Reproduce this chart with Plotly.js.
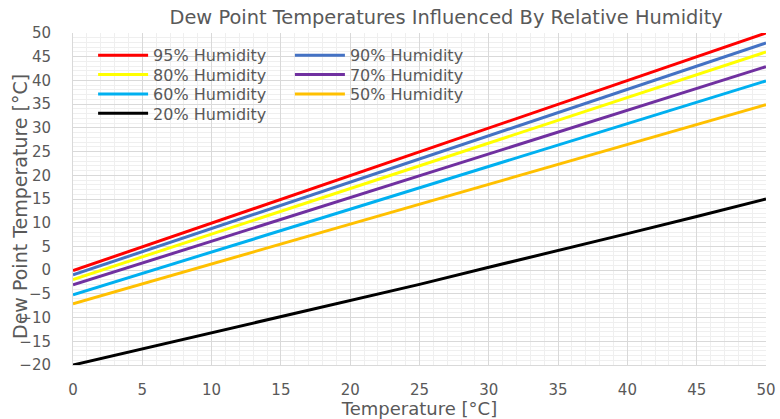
<!DOCTYPE html>
<html>
<head>
<meta charset="utf-8">
<script src="https://cdn.plot.ly/plotly-3.0.1.min.js"></script>
<style>html,body{margin:0;padding:0;background:#fff;}#chart{width:780px;height:419px;}</style>
</head>
<body>
<div id="chart"></div>
<script>
// Air temperature [°C]
const temperature = [0, 5, 10, 15, 20, 25, 30, 35, 40, 45, 50];
// Dew point [°C]
const rh95 = [-0.1, 4.9, 9.9, 14.9, 19.9, 25.0, 30.0, 35.0, 40.0, 45.0, 50.0];
const rh90 = [-1.0, 3.9, 8.8, 13.7, 18.6, 23.5, 28.4, 33.3, 38.2, 43.1, 47.9];
const rh80 = [-2.0, 2.8, 7.6, 12.4, 17.2, 22.0, 26.8, 31.6, 36.4, 41.2, 46.0];
const rh70 = [-3.1, 1.5, 6.1, 10.7, 15.3, 19.9, 24.5, 29.1, 33.7, 38.3, 42.9];
const rh60 = [-5.2, -0.7, 3.8, 8.3, 12.8, 17.3, 21.9, 26.4, 30.9, 35.4, 39.9];
const rh50 = [-7.1, -2.9, 1.3, 5.5, 9.7, 13.9, 18.1, 22.3, 26.5, 30.7, 34.9];
const rh20 = [-20.0, -16.6, -13.2, -9.9, -6.5, -3.0, 0.6, 4.1, 7.7, 11.3, 15.0];

const seriesNames = ['95% Humidity','90% Humidity','80% Humidity','70% Humidity','60% Humidity','50% Humidity','20% Humidity'];
const seriesData = [rh95, rh90, rh80, rh70, rh60, rh50, rh20];
const seriesColors = ['#FF0000','#4472C4','#FFFF00','#7030A0','#00B0F0','#FFC000','#000000'];

const FONT = 'DejaVu Sans, Verdana, sans-serif';
const GREY = '#595959';

// one legend box per entry, laid out as two columns like the reference
const legendIds = ['legend','legend2','legend3','legend4','legend5','legend6','legend7'];
const legendCol = [0, 1, 0, 1, 0, 1, 0];
const legendRow = [0, 0, 1, 1, 2, 2, 3];
const colX = [0.029, 0.313];
const rowY = [0.984, 0.926, 0.867, 0.809];

const traces = seriesData.map((y, i) => ({
  x: temperature, y: y, name: seriesNames[i], type: 'scatter', mode: 'lines',
  line: {color: seriesColors[i], width: 3},
  legend: legendIds[i]
}));

const layout = {
  width: 780, height: 419,
  margin: {l: 73, r: 14, t: 33, b: 54},
  paper_bgcolor: '#fff', plot_bgcolor: '#fff',
  showlegend: true,
  title: {text: 'Dew Point Temperatures Influenced By Relative Humidity',
          font: {family: FONT, size: 19.4, color: GREY},
          x: 0.572, xref: 'container', xanchor: 'center', y: 0.958, yref: 'container', yanchor: 'middle'},
  xaxis: {
    range: [0, 50], dtick: 5, tick0: 0,
    showgrid: true, gridcolor: '#D9D9D9', gridwidth: 1,
    minor: {dtick: 1, showgrid: true, gridcolor: '#EFEFEF', gridwidth: 1},
    showline: true, linecolor: '#D9D9D9', linewidth: 1,
    zeroline: false, ticks: '',
    tickfont: {family: FONT, size: 15, color: GREY},
    ticklabelstandoff: 11,
    title: {text: 'Temperature [°C]', font: {family: FONT, size: 18, color: GREY}, standoff: 2}
  },
  yaxis: {
    range: [-20, 50], dtick: 5, tick0: 0,
    showgrid: true, gridcolor: '#D9D9D9', gridwidth: 1,
    minor: {dtick: 1, showgrid: true, gridcolor: '#EFEFEF', gridwidth: 1},
    showline: true, linecolor: '#D9D9D9', linewidth: 1,
    zeroline: false, ticks: '',
    tickfont: {family: FONT, size: 15, color: GREY},
    ticklabelstandoff: 18
  },
  annotations: [{
    text: 'Dew Point Temperature [°C]', textangle: -90,
    font: {family: FONT, size: 19, color: GREY},
    xref: 'paper', yref: 'paper', x: -0.0765, y: 0.479,
    xanchor: 'center', yanchor: 'middle', showarrow: false
  }]
};

legendIds.forEach((id, i) => {
  layout[id] = {
    bgcolor: 'rgba(255,255,255,0)', borderwidth: 0,
    font: {family: FONT, size: 16, color: GREY},
    itemwidth: 50, xanchor: 'left', yanchor: 'top',
    xref: 'paper', yref: 'paper',
    x: colX[legendCol[i]], y: rowY[legendRow[i]]
  };
});

Plotly.newPlot('chart', traces, layout, {displayModeBar: false, staticPlot: true});
</script>
</body>
</html>
